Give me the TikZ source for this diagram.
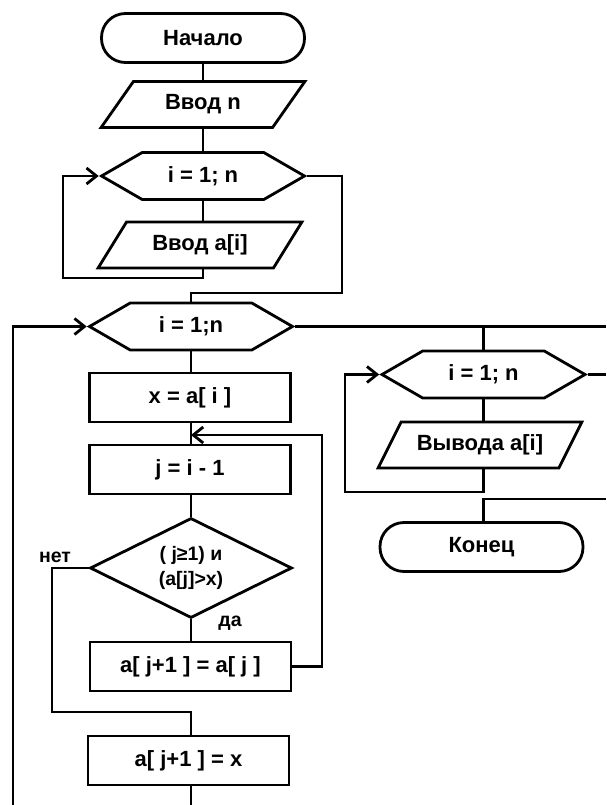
\documentclass[tikz,border=0pt]{standalone}
\usepackage{fontspec}
\setmainfont{Liberation Sans}
\usetikzlibrary{arrows.meta,shapes.geometric,shapes.symbols}
\definecolor{ChartInk}{HTML}{000000}
\newcommand{\chartfont}{\fontsize{22}{26}\selectfont\bfseries}
\newcommand{\condfont}{\fontsize{19.5}{25}\selectfont\bfseries}
\tikzset{
  termbox/.style={draw=ChartInk,rectangle,rounded corners=24pt,minimum width=203pt,minimum height=49pt,font=\chartfont},
  iobox/.style={draw=ChartInk,trapezium,trapezium left angle=48,trapezium right angle=132,trapezium stretches,minimum width=204pt,minimum height=46pt,inner sep=0pt,font=\chartfont},
  loopbox/.style={draw=ChartInk,signal,signal to=east and west,signal pointer angle=60,minimum width=203pt,minimum height=47pt,inner sep=0pt,font=\chartfont},
  procbox/.style={draw=ChartInk,rectangle,minimum width=201pt,minimum height=49pt,font=\chartfont},
  condbox/.style={draw=ChartInk,diamond,aspect=2,minimum width=202pt,minimum height=100pt,inner sep=0pt,align=center,font=\condfont},
  flowline/.style={draw=ChartInk,line width=2.8pt},
  flowarrow/.style={flowline,-{Straight Barb[length=10pt,width=16pt]}},
  tag/.style={font=\condfont}
}

\begin{document}
\begin{tikzpicture}[x=1pt,y=-1pt,line width=2.8pt]
\useasboundingbox (0,0) rectangle (606,805);
% input loop
\node[termbox] (start) at (203,38) {Начало};
\node[iobox] (in_n) at (203,104.5) {Ввод n};
\node[loopbox] (loop1) at (203,176) {i = 1; n};
\node[iobox] (in_a) at (200,245) {Ввод a[i]};
% insertion sort
\node[loopbox] (loop2) at (191,326.5) {i = 1;n};
\node[procbox] (setx) at (190,397.5) {x = a[ i ]};
\node[procbox] (setj) at (190,469.5) {j = i - 1};
\node[condbox] (cond) at (191,568) {( j≥1) и\\(a[j]>x)};
\node[procbox] (shift) at (190.5,666.5) {a[ j+1 ] = a[ j ]};
\node[procbox] (put) at (188.5,760.5) {a[ j+1 ] = x};
\node[tag] (no) at (55,557) {нет};
\node[tag] (yes) at (230,623) {да};
% output loop
\node[loopbox] (loop3) at (483.5,374.5) {i = 1; n};
\node[iobox] (out) at (480,445) {Вывода a[i]};
\node[termbox] (end) at (481.5,547) {Конец};

\coordinate (back1) at (63,278);
\coordinate (exit1) at (342,293);
\coordinate (edge2) at (606,326.5);
\coordinate (low) at (13,805);
\coordinate (ret) at (322,435);
\coordinate (nobr) at (52,712);
\coordinate (back3) at (345,492);
\coordinate (endin) at (606,499);

\draw[flowline] (start) -- (start.south |- in_n.north);
\draw[flowline] (in_n.south) -- (in_n.south |- loop1.north);
\draw[flowline] (loop1.south) -- (loop1.south |- in_a.north);
\draw[flowarrow] (loop1.south |- in_a.south) |- (back1) |- (loop1.west);
\draw[flowline] (loop1.east) -| (exit1) -| (loop2.north);
\draw[flowline] (loop2.east) -- (edge2);
\draw[flowline] (loop2.east -| loop3.north) -- (loop3.north);
\draw[flowarrow] (low) |- (loop2.west);

\draw[flowline] (loop2.south) -- (loop2.south |- setx.north);
\draw[flowline] (loop2.south |- setx.south) -- (loop2.south |- setj.north);
\draw[flowarrow] (shift.east) -| (ret) -- (ret -| loop2.south);
\draw[flowline] (loop2.south |- setj.south) -- (cond.north);
\draw[flowline] (cond.south) -- (cond.south |- shift.north);
\draw[flowline] (cond.west) -| (nobr) -| (cond.south |- put.north);
\draw[flowline] (cond.south |- put.south) -- (cond.south |- low);

\draw[flowline] (loop3.south) -- (loop3.south |- out.north);
\draw[flowarrow] (loop3.south |- out.south) |- (back3) |- (loop3.west);
\draw[flowline] (loop3.east) -- (loop3.east -| edge2);
\draw[flowline] (end.north -| loop3.south) |- (endin);
\end{tikzpicture}
\end{document}
